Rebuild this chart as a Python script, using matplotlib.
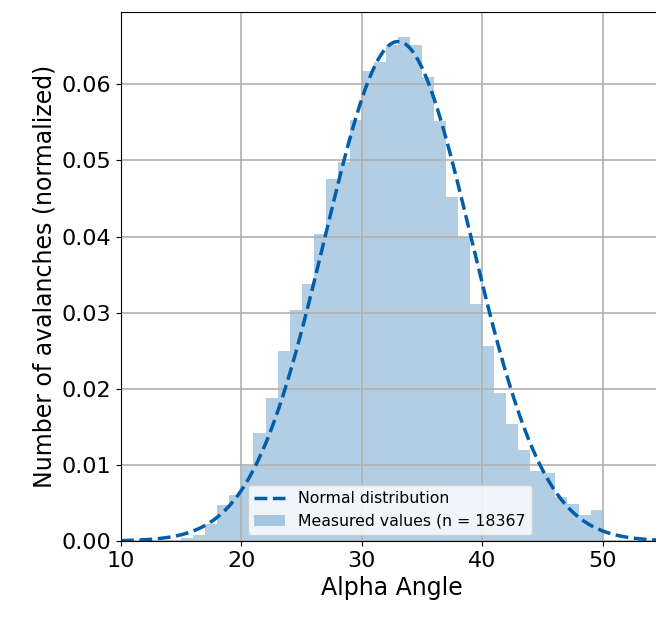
import matplotlib

matplotlib.use("Agg")
import matplotlib.pyplot as plt
import numpy as np

# histogram bins (width 1) and normalized heights
bin_edges = list(range(15, 51))
heights = [
    0.0004, 0.0008, 0.0022, 0.0047, 0.0061,
    0.0099, 0.0142, 0.0188, 0.0250, 0.0304,
    0.0338, 0.0403, 0.0476, 0.0498, 0.0553,
    0.0618, 0.0629, 0.0652, 0.0662, 0.0652,
    0.0609, 0.0552, 0.0452, 0.0400, 0.0311,
    0.0256, 0.0194, 0.0154, 0.0120, 0.0092,
    0.0089, 0.0058, 0.0049, 0.0034, 0.0041,
]
n_samples = 18367

# fitted normal distribution
mu = 33.0
sigma = 6.08

x_ticks = [10, 20, 30, 40, 50]
y_ticks = [0.00, 0.01, 0.02, 0.03, 0.04, 0.05, 0.06]

blue = "#005eaa"

fig = plt.figure(figsize=(6.56, 6.17), dpi=100)
ax = fig.add_axes([0.1845, 0.1232, 0.826, 0.8574])
# grid above the bars, below the fitted curve
ax.set_axisbelow("line")
ax.grid(True, color="#b0b0b0", linewidth=1.2)

edges = np.array(bin_edges, dtype=float)
ax.bar(edges[:-1], heights, width=np.diff(edges), align="edge",
       color=blue, alpha=0.3, linewidth=0,
       label=f"Measured values (n = {n_samples}")

xs = np.linspace(10, 55, 400)
pdf = np.exp(-0.5 * ((xs - mu) / sigma) ** 2) / (sigma * np.sqrt(2 * np.pi))
ax.plot(xs, pdf, linestyle="--", color=blue, linewidth=2.5,
        label="Normal distribution")

ax.set_xlim(10, 55)
ax.set_ylim(0, 0.0695)
ax.set_xticks(x_ticks)
ax.set_yticks(y_ticks)
ax.set_yticklabels([f"{v:.2f}" for v in y_ticks])
ax.tick_params(labelsize=16)
ax.set_xlabel("Alpha Angle", fontsize=17)
ax.set_ylabel("Number of avalanches (normalized)", fontsize=17)

ax.legend(loc="lower left", bbox_to_anchor=(0.234, 0.011),
          borderaxespad=0, fontsize=11.3)

fig.savefig("out.png", dpi=100)
plt.close(fig)
